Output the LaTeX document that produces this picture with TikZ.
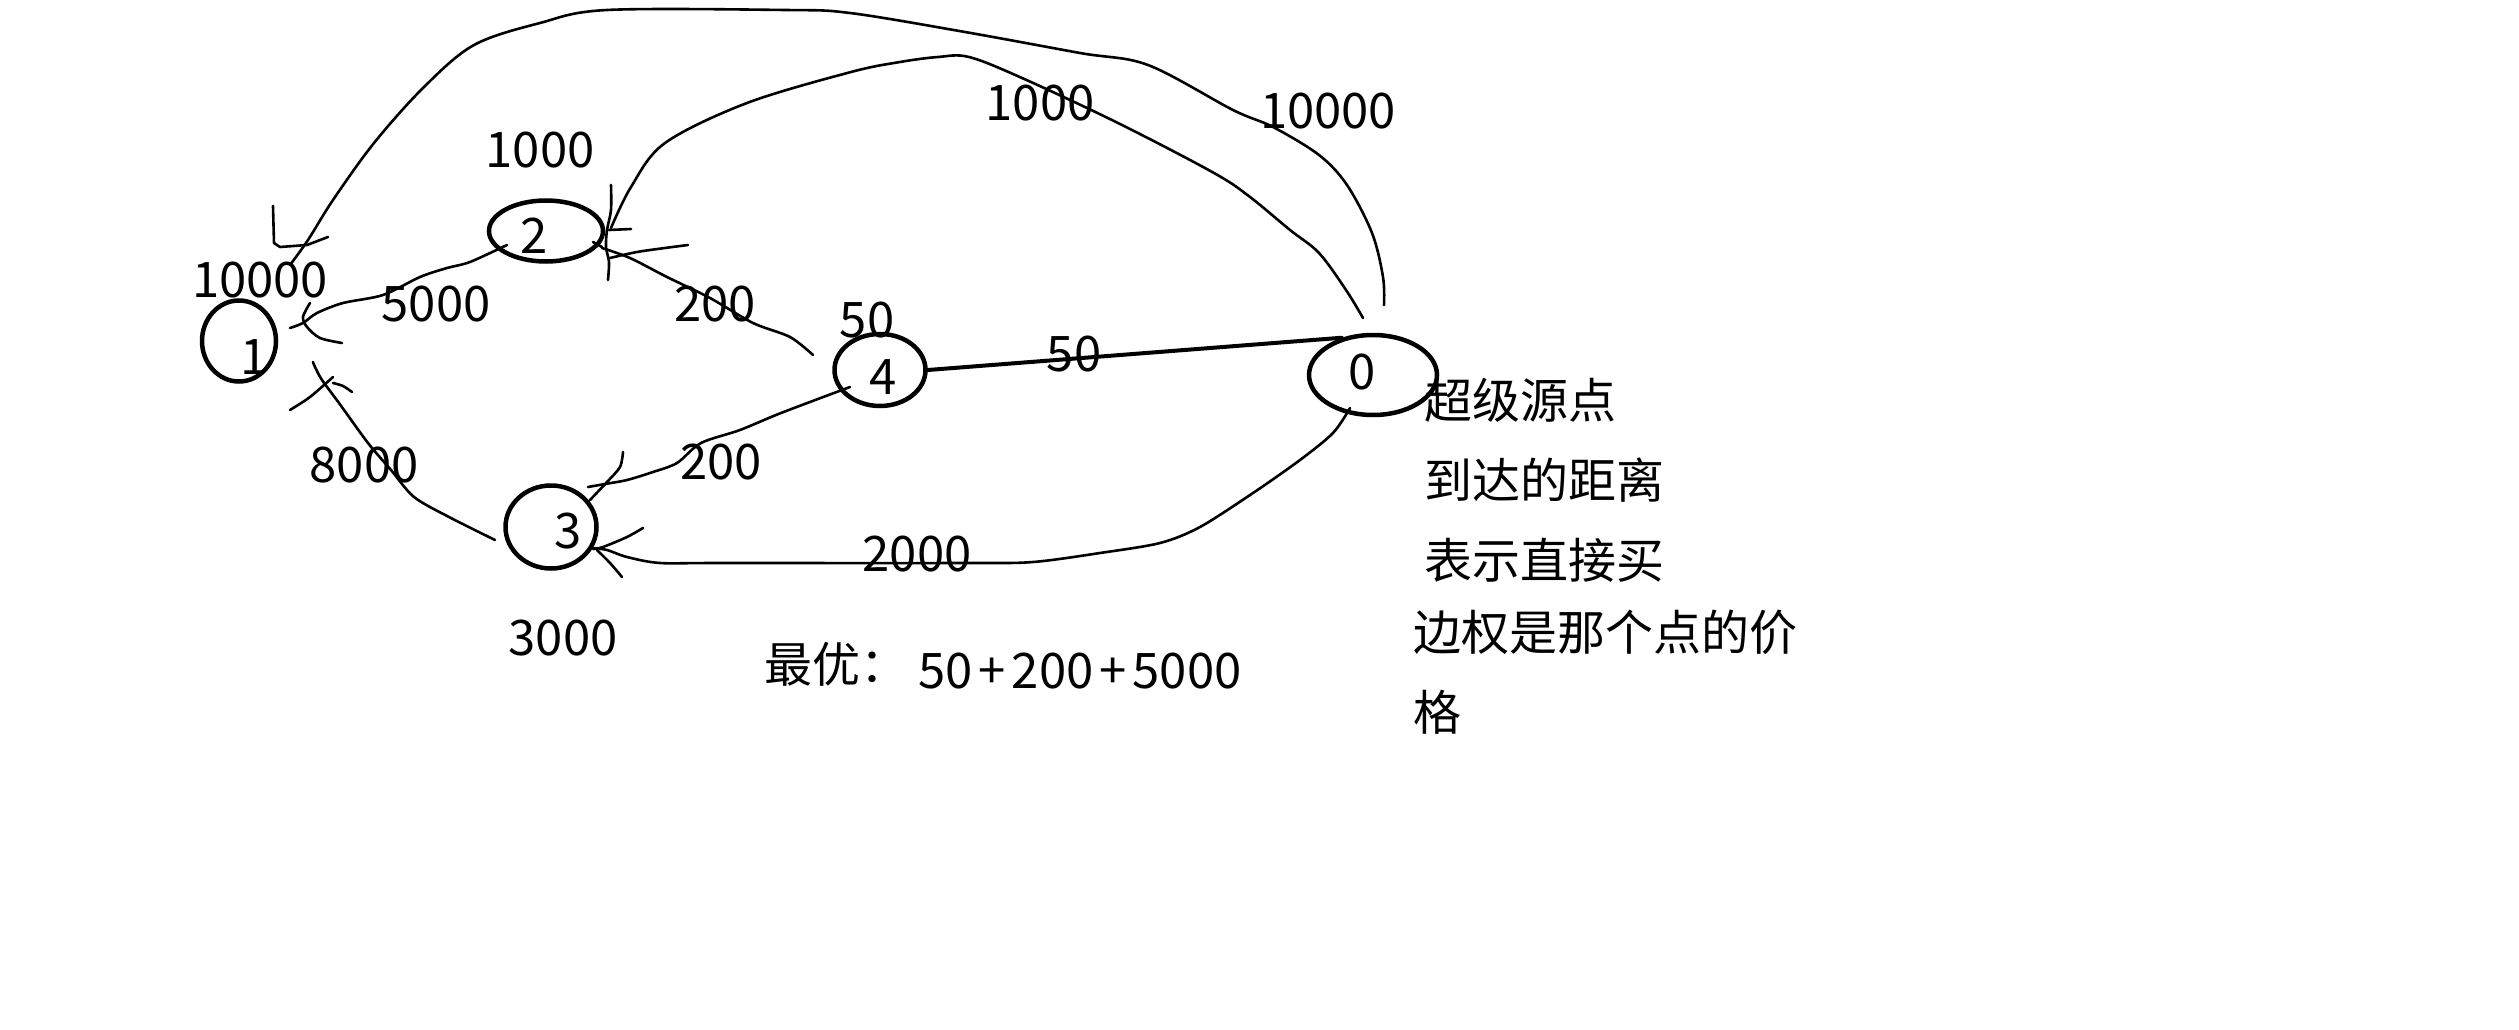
\documentclass[tikz,border=0pt]{standalone}
\usepackage{fontspec}
\setmainfont{Noto Sans CJK SC}
\usetikzlibrary{shapes.geometric}
\begin{document}
\begin{tikzpicture}[x=1pt,y=-1pt,
  nd/.style={draw, ellipse, line width=4.5pt, inner sep=0pt},
  edge/.style={line width=2.6pt, line cap=round, line join=round},
  thickedge/.style={line width=4pt, line cap=round},
  tick/.style={line width=2.6pt, line cap=round, line join=round},
  lbl/.style={inner sep=0pt, font=\fontsize{49}{59}\selectfont},
  cjk/.style={inner sep=0pt, anchor=west, font=\fontsize{48}{58}\selectfont}]
\useasboundingbox[fill=white] (0,0) rectangle (2519,1030);

% nodes (ellipses)
\node[nd, minimum width=74pt, minimum height=81pt] (n1) at (239,341) {};
\node[nd, minimum width=114pt, minimum height=61pt] (n2) at (546,231) {};
\node[nd, minimum width=91pt, minimum height=83pt] (n3) at (551,527) {};
\node[nd, minimum width=91pt, minimum height=72pt] (n4) at (880,370) {};
\node[nd, minimum width=128pt, minimum height=80pt] (n0) at (1373,375) {};

% digits inside nodes
\node[lbl] (t1) at (254,357) {1};
\node[lbl] (t2) at (534,236) {2};
\node[lbl] (t3) at (568,531) {3};
\node[lbl] (t4) at (883,377) {4};
\node[lbl] (t0) at (1362,372) {0};

% free ends of the hand-drawn connectors
\coordinate (e1s) at (1384,305);
\coordinate (e1e) at (290,265);
\coordinate (e2s) at (1363,318);
\coordinate (e2e) at (611,228);
\coordinate (e3s) at (813,355);
\coordinate (e3e) at (602,248);
\coordinate (e4s) at (507,245);
\coordinate (e4e) at (290,328);
\coordinate (e6s) at (850,387);
\coordinate (e6e) at (588,487);
\coordinate (e7s) at (495,540);
\coordinate (e7e) at (315,367);
\coordinate (e8s) at (1350,408);
\coordinate (e8e) at (593,548);

% 0 -> 1 (10000), outer curve
\draw[edge] plot[smooth, tension=0.55] coordinates {(e1s) (1383,277) (1372,233) (1347,185) (1319,155) (1273,127) (1233,110) (1148,65) (1080,53) (965,32) (850,13) (785,10) (607,10) (540,23) (474,45) (424,87) (374,143) (333,200) (308,240) (e1e)};
\draw[tick] (273,206) -- (274,243) -- (280,247) -- (307,245) -- (328,237);

% 0 -> 2 (1000)
\draw[edge] plot[smooth, tension=0.55] coordinates {(e2s) (1346,290) (1319,253) (1290,230) (1250,197) (1214,173) (1118,123) (1022,78) (969,57) (938,57) (900,62) (851,72) (747,103) (665,143) (631,187) (e2e)};
\draw[tick] plot[smooth] coordinates {(611,185) (611,210) (607,230) (606,247) (609,262) (608,280)};
\draw[tick] (609,230) -- (631,229);

% 4 -> 2 (200)
\draw[edge] plot[smooth, tension=0.5] coordinates {(e3s) (790,337) (753,323) (710,298) (667,277) (630,258) (e3e)};
\draw[tick] plot[smooth] coordinates {(610,258) (637,252) (665,248) (688,245)};
\draw[tick] (593,242) -- (602,247);

% 2 -> 1 (5000)
\draw[edge] plot[smooth, tension=0.5] coordinates {(e4s) (470,262) (447,268) (420,277) (383,295) (343,303) (317,313) (303,323) (e4e)};
\draw[tick] plot[smooth] coordinates {(310,303) (303,317) (307,327) (320,338) (342,343)};

% 4 -> 0 (50), thick
\draw[thickedge] (n4.east) -- (n0.130);

% 4 -> 3 (200)
\draw[edge] plot[smooth, tension=0.5] coordinates {(e6s) (781,413) (740,430) (701,443) (677,463) (653,472) (627,480) (605,484) (e6e)};
\draw[tick] plot[smooth] coordinates {(623,452) (620,467) (607,482) (590,500)};

% 3 -> 1 (8000)
\draw[edge] plot[smooth, tension=0.5] coordinates {(e7s) (449,517) (414,497) (391,470) (368,443) (339,403) (322,380) (e7e) (313,362)};
\draw[tick] plot[smooth] coordinates {(290,410) (310,397) (333,377)};
\draw[tick] plot[smooth] coordinates {(333,383) (343,386) (352,392)};

% 0 -> 3 (2000)
\draw[edge] plot[smooth, tension=0.5] coordinates {(e8s) (1333,433) (1300,460) (1253,493) (1200,527) (1160,543) (1100,553) (1033,562) (967,563) (720,563) (660,563) (627,557) (607,550) (e8e)};
\draw[tick] plot[smooth] coordinates {(643,528) (627,537) (603,547) (593,549)};
\draw[tick] plot[smooth] coordinates {(597,550) (610,563) (622,577)};

% weights
\node[lbl] (w10000a) at (1328,111) {10000};
\node[lbl] (w1000a) at (1040,103) {1000};
\node[lbl] (w1000b) at (540,150) {1000};
\node[lbl] (w10000b) at (260,280) {10000};
\node[lbl] (w5000) at (436,304) {5000};
\node[lbl] (w200a) at (715,304) {200};
\node[lbl] (w50a) at (867,320) {50};
\node[lbl] (w50b) at (1074,354) {50};
\node[lbl] (w200b) at (721,462) {200};
\node[lbl] (w8000) at (364,465) {8000};
\node[lbl] (w2000) at (917,554) {2000};
\node[lbl] (w3000) at (563,638) {3000};

% notes
\node[cjk] (best) at (764,664) {最优：};
\node[lbl] (sum) at (1080,671) {50\hspace{6pt}+\hspace{6pt}200\hspace{6pt}+\hspace{6pt}5000};
\node[cjk] (c1) at (1424,400) {超级源点};
\node[cjk] (c2) at (1424,480) {到达的距离};
\node[cjk] (c3) at (1424,560) {表示直接买};
\node[cjk] (c4) at (1413,632) {边权是那个点的价};
\node[cjk] (c5) at (1413,712) {格};
\end{tikzpicture}
\end{document}
